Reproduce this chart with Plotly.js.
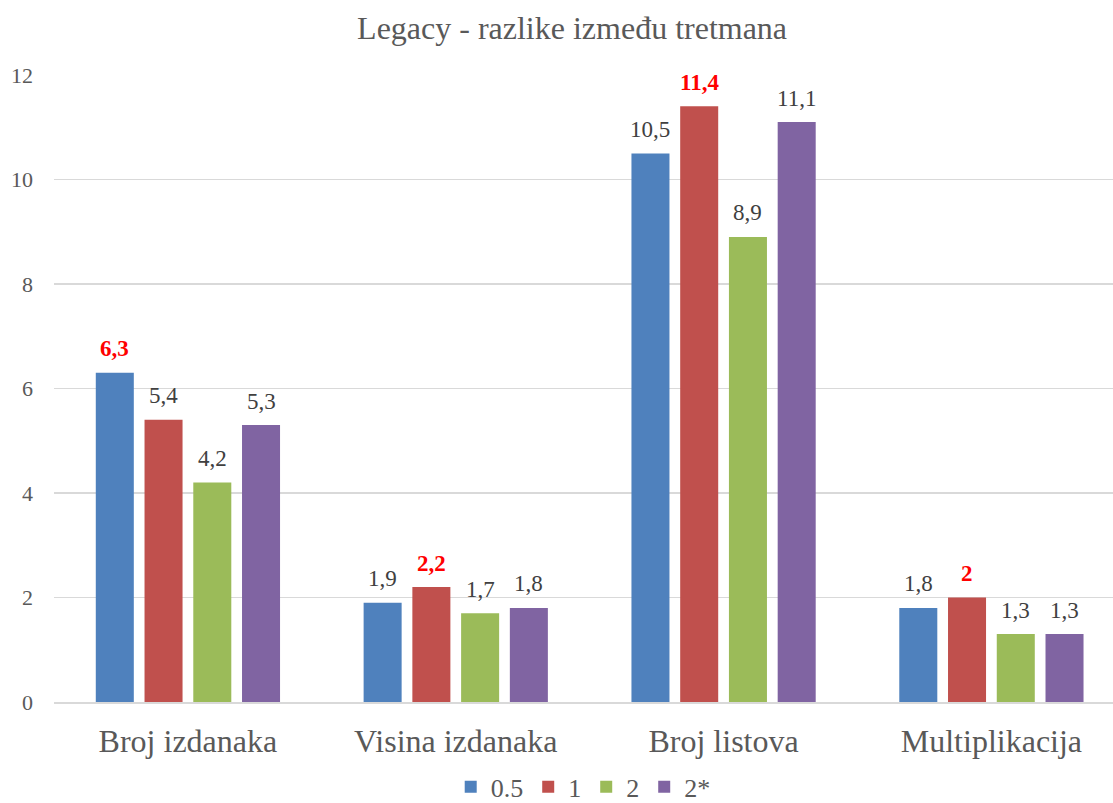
<!DOCTYPE html>
<html><head><meta charset="utf-8">
<script src="https://cdn.plot.ly/plotly-3.0.1.min.js"></script>
<style>body{margin:0;padding:0;background:#fff}#chart{width:1113px;height:803px}</style>
</head><body><div id="chart"></div>
<script>
const categories = ["Broj izdanaka", "Visina izdanaka", "Broj listova", "Multiplikacija"];
const seriesNames = ["0.5", "1", "2", "2*"];
const s05 = [6.3, 1.9, 10.5, 1.8];
const s1 = [5.4, 2.2, 11.4, 2.0];
const s2 = [4.2, 1.7, 8.9, 1.3];
const s2star = [5.3, 1.8, 11.1, 1.3];
const colors = ["#4f81bd", "#c0504d", "#9bbb59", "#8064a2"];

const FONT = '"Times New Roman", "Liberation Serif", serif';
const all = [s05, s1, s2, s2star];
const maxes = categories.map((c, i) => Math.max(...all.map(s => s[i])));
const fmt = v => String(v).replace('.', ',');

// layout geometry (style)
const L = 54, W = 1113, XMAX = 3.454, BARGAP = 0.272;
const catPx = (W - L) / (XMAX + 0.5);
const slotPx = catPx * (1 - BARGAP) / all.length;

const traces = all.map((s, k) => ({
  type: 'bar',
  name: seriesNames[k],
  x: categories,
  y: s,
  marker: {color: colors[k]},
  hoverinfo: 'x+y'
}));

const annotations = [];
all.forEach((s, k) => {
  s.forEach((v, i) => {
    const isMax = v === maxes[i];
    annotations.push({
      x: categories[i], y: v, xref: 'x', yref: 'y',
      text: isMax ? '<b>' + fmt(v) + '</b>' : fmt(v),
      showarrow: false,
      xshift: (k - (all.length - 1) / 2) * slotPx,
      yshift: 24, yanchor: 'middle', xanchor: 'center',
      font: {family: FONT, size: 23, color: isMax ? '#ff0000' : '#404040'}
    });
  });
});

const layout = {
  width: 1113, height: 803,
  margin: {l: L, r: 0, t: 75, b: 101},
  paper_bgcolor: '#fff', plot_bgcolor: '#fff',
  title: {text: 'Legacy - razlike između tretmana', x: 0.514, xanchor: 'center', y: 0.966, yanchor: 'middle',
    font: {family: FONT, size: 32, color: '#595959'}},
  barmode: 'group',
  bargap: BARGAP,
  bargroupgap: 0.22,
  showlegend: true,
  legend: {orientation: 'h', xref: 'container', x: 0.524, xanchor: 'center', yref: 'container', y: 0.02, yanchor: 'middle',
    font: {family: FONT, size: 26, color: '#595959'},
    itemwidth: 30, tracegroupgap: 0},
  annotations: annotations,
  xaxis: {
    range: [-0.5, XMAX],
    tickfont: {family: FONT, size: 32, color: '#595959'},
    showline: true, linecolor: '#d9d9d9', linewidth: 1.5, ticks: '', ticklabelstandoff: 10,
    automargin: false, fixedrange: true
  },
  yaxis: {
    range: [0, 12], dtick: 2, tick0: 0,
    showgrid: true, gridcolor: '#d9d9d9', gridwidth: 1.3,
    zeroline: false, showline: false, ticks: '', automargin: false,
    tickfont: {family: FONT, size: 22, color: '#595959'},
    ticklabelstandoff: 20
  },
  separators: ',.',
  font: {family: FONT}
};
Plotly.newPlot('chart', traces, layout, {displayModeBar: false, staticPlot: true});
</script></body></html>
